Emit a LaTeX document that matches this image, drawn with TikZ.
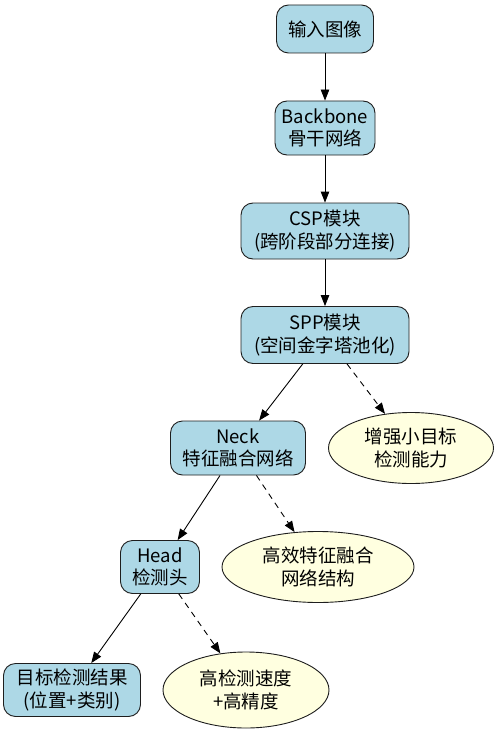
\documentclass[tikz,border=0pt]{standalone}
\usepackage{fontspec}
\setmainfont{Noto Sans CJK SC}
\usetikzlibrary{arrows.meta,shapes.geometric}
\definecolor{boxblue}{RGB}{173,216,230}
\definecolor{noteyellow}{RGB}{255,255,224}
\definecolor{edge}{RGB}{30,30,30}
\tikzset{
  stage/.style={draw=edge, line width=0.9pt, fill=boxblue, rounded corners=12pt,
    align=center, inner sep=0pt, font=\fontsize{18.5}{22.5}\selectfont},
  note/.style={ellipse, draw=edge, line width=0.9pt, fill=noteyellow,
    align=center, inner sep=0pt, font=\fontsize{18.5}{22.5}\selectfont},
  arr/.style={draw=black, line width=0.9pt, -{Triangle[length=11pt,width=8.5pt]}},
  darr/.style={arr, dash pattern=on 6pt off 5pt},
}
\begin{document}
\begin{tikzpicture}[x=1pt,y=-1pt]
\useasboundingbox (0,0) rectangle (499,733);
\node[stage, minimum width=97pt, minimum height=48pt] (in) at (325,29) {输入图像};
\node[stage, minimum width=100pt, minimum height=54pt] (bb) at (325,128) {Backbone\\骨干网络};
\node[stage, minimum width=168pt, minimum height=56pt] (csp) at (325,231) {CSP模块\\(跨阶段部分连接)};
\node[stage, minimum width=168pt, minimum height=57pt] (spp) at (325,335) {SPP模块\\(空间金字塔池化)};
\node[stage, minimum width=135pt, minimum height=54pt] (neck) at (238,448) {Neck\\特征融合网络};
\node[note, minimum width=165pt, minimum height=71pt] (n1) at (411,448) {增强小目标\\检测能力};
\node[stage, minimum width=79pt, minimum height=53pt] (head) at (160,567) {Head\\检测头};
\node[note, minimum width=192pt, minimum height=71pt] (n2) at (318,567) {高效特征融合\\网络结构};
\node[stage, minimum width=137pt, minimum height=53pt] (res) at (72,690) {目标检测结果\\(位置+类别)};
\node[note, minimum width=166pt, minimum height=76pt] (n3) at (246,690) {高检测速度\\+高精度};
\draw[arr] (in) -- (bb);
\draw[arr] (bb) -- (csp);
\draw[arr] (csp) -- (spp);
\draw[arr] (spp) -- (neck);
\draw[darr] (spp) -- (n1);
\draw[arr] (neck) -- (head);
\draw[darr] (neck) -- (n2);
\draw[arr] (head) -- (res);
\draw[darr] (head) -- (n3);
\end{tikzpicture}
\end{document}
